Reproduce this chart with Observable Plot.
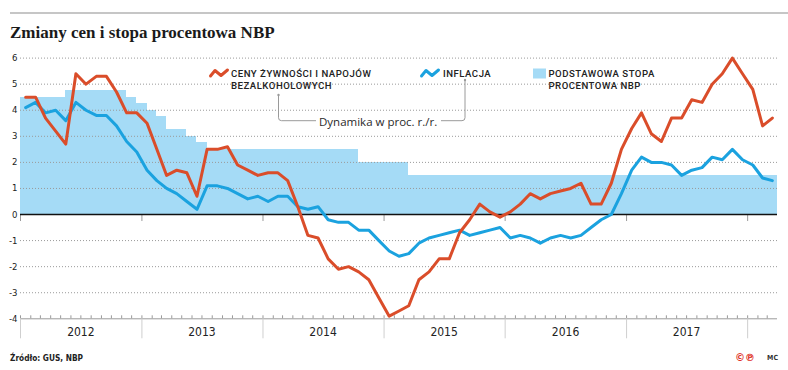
<!DOCTYPE html>
<html><head><meta charset="utf-8">
<script src="https://cdn.jsdelivr.net/npm/d3@7"></script>
<script src="https://cdn.jsdelivr.net/npm/@observablehq/plot@0.6"></script>
<style>
body{margin:0;background:#fff;}
#wrap{position:relative;width:788px;height:370px;overflow:hidden;background:#fff;}
#chart{position:absolute;left:0;top:45px;}
#overlay{position:absolute;left:0;top:0;pointer-events:none;}
</style>
</head><body>
<div id="wrap"><div id="chart"></div><svg id="overlay" width="788" height="370"></svg></div>
<script>
// ---- data (monthly, Jan 2012 – Mar 2018) ----
const inflation = [
  4.1, 4.3, 3.9, 4.0, 3.6, 4.3, 4.0, 3.8, 3.8, 3.4, 2.8, 2.4,
  1.7, 1.3, 1.0, 0.8, 0.5, 0.2, 1.1, 1.1, 1.0, 0.8, 0.6, 0.7,
  0.5, 0.7, 0.7, 0.3, 0.2, 0.3, -0.2, -0.3, -0.3, -0.6, -0.6, -1.0,
  -1.4, -1.6, -1.5, -1.1, -0.9, -0.8, -0.7, -0.6, -0.8, -0.7, -0.6, -0.5,
  -0.9, -0.8, -0.9, -1.1, -0.9, -0.8, -0.9, -0.8, -0.5, -0.2, 0.0, 0.8,
  1.7, 2.2, 2.0, 2.0, 1.9, 1.5, 1.7, 1.8, 2.2, 2.1, 2.5, 2.1,
  1.9, 1.4, 1.3
];
const food = [
  4.5, 4.5, 3.7, 3.2, 2.7, 5.4, 5.0, 5.3, 5.3, 4.7, 3.9, 3.9,
  3.5, 2.5, 1.5, 1.7, 1.6, 0.7, 2.5, 2.5, 2.6, 1.9, 1.7, 1.5,
  1.6, 1.6, 1.3, 0.3, -0.8, -0.9, -1.7, -2.1, -2.0, -2.2, -2.5, -3.2,
  -3.9, -3.7, -3.5, -2.5, -2.2, -1.7, -1.7, -0.7, -0.2, 0.4, 0.1, -0.1,
  0.1, 0.4, 0.8, 0.6, 0.8, 0.9, 1.0, 1.2, 0.4, 0.4, 1.2, 2.5,
  3.3, 3.9, 3.1, 2.8, 3.7, 3.7, 4.4, 4.3, 5.0, 5.4, 6.0, 5.4,
  4.8, 3.4, 3.7
];
const rate = [
  4.5, 4.5, 4.5, 4.5, 4.75, 4.75, 4.75, 4.75, 4.75, 4.75, 4.5, 4.25,
  4.0, 3.75, 3.25, 3.25, 3.0, 2.75, 2.5, 2.5, 2.5, 2.5, 2.5, 2.5,
  2.5, 2.5, 2.5, 2.5, 2.5, 2.5, 2.5, 2.5, 2.5, 2.0, 2.0, 2.0,
  2.0, 2.0, 1.5, 1.5, 1.5, 1.5, 1.5, 1.5, 1.5, 1.5, 1.5, 1.5,
  1.5, 1.5, 1.5, 1.5, 1.5, 1.5, 1.5, 1.5, 1.5, 1.5, 1.5, 1.5,
  1.5, 1.5, 1.5, 1.5, 1.5, 1.5, 1.5, 1.5, 1.5, 1.5, 1.5, 1.5,
  1.5, 1.5, 1.5
];
const yearLabels = ["2012", "2013", "2014", "2015", "2016", "2017"];
const yTicks = [-4, -3, -2, -1, 0, 1, 2, 3, 4, 5, 6];

const RED = "#da4d2a", BLUE = "#1ba2df", AREA = "#a5dbf6";
const tickFont = "'Liberation Sans Narrow','DejaVu Sans Condensed','Roboto',sans-serif";

const start = new Date(Date.UTC(2012, 0, 1));
const months = d3.utcMonth.range(start, d3.utcMonth.offset(start, inflation.length));
const end = d3.utcMonth.offset(months[months.length - 1], 1);
const mid = d => new Date((+d + +d3.utcMonth.offset(d, 1)) / 2);
const rows = months.map((m, i) => ({date: mid(m), inflation: inflation[i], food: food[i], rate: rate[i]}));
const steps = rows.map((r, i) => ({
  x1: i === 0 ? months[0] : r.date,
  x2: i === rows.length - 1 ? end : rows[i + 1].date,
  rate: r.rate
}));
const yearStarts = months.filter(d => d.getUTCMonth() === 0);
const yearMids = yearLabels.map(y => new Date(Date.UTC(+y, 6, 1)));

const chart = Plot.plot({
  width: 788, height: 300,
  marginLeft: 20, marginRight: 11, marginTop: 12.6, marginBottom: 26.7,
  x: {type: "utc", domain: [start, end]},
  y: {domain: [-4, 6]},
  style: {fontFamily: tickFont, background: "transparent"},
  marks: [
    Plot.rect(steps, {x1: "x1", x2: "x2", y1: 0, y2: "rate", fill: AREA, shapeRendering: "crispEdges"}),
    Plot.ruleY(yTicks.filter(d => d !== 0 && d !== -4), {stroke: "#9a9a9a", strokeDasharray: "1,2", strokeWidth: 1}),
    Plot.ruleY([-4], {stroke: "#9a9a9a", strokeWidth: 1}),
    Plot.ruleX(months, {x: d => d, y1: -4, y2: -4, insetTop: -3, stroke: "#9a9a9a"}),
    Plot.ruleX(yearStarts, {x: d => d, y1: -4, y2: -4, insetBottom: -20, stroke: "#cfcfcf"}),
    Plot.ruleX(yearStarts, {x: d => d, y1: 0, y2: 0, insetBottom: -7, stroke: "#9a9a9a"}),
    Plot.ruleY([0], {stroke: "#111", strokeWidth: 1.6}),
    Plot.axisY(yTicks, {tickSize: 0, tickPadding: 3, tickFormat: d => String(d), fontSize: 9.5, fill: "#222"}),
    Plot.axisX(yearMids, {tickSize: 0, tickPadding: 9, tickFormat: d3.utcFormat("%Y"), fontSize: 12, fill: "#222"}),
    Plot.lineY(rows, {x: "date", y: "inflation", stroke: BLUE, strokeWidth: 3}),
    Plot.lineY(rows, {x: "date", y: "food", stroke: RED, strokeWidth: 3})
  ]
});
document.getElementById("chart").append(chart);

// ---- title, legend, footer ----
const svg = d3.select("#overlay");
svg.append("line").attr("x1", 10).attr("x2", 788).attr("y1", 13).attr("y2", 13)
  .attr("stroke", "#b3b3b3").attr("stroke-width", 1.5);
svg.append("text").attr("x", 10).attr("y", 38).text("Zmiany cen i stopa procentowa NBP")
  .attr("font-family", "'Liberation Serif',serif").attr("font-weight", "bold")
  .attr("font-size", 17).attr("fill", "#1a1a1a");

const legFont = "Roboto,'Open Sans',sans-serif";
function legText(x, y, lines) {
  const t = svg.append("text").attr("x", x).attr("y", y)
    .attr("font-family", legFont).attr("font-weight", 500).attr("font-size", 9.6)
    .attr("letter-spacing", 0.5).attr("fill", "#222");
  lines.forEach((s, i) => t.append("tspan").attr("x", x).attr("dy", i === 0 ? 0 : 11.4).text(s));
}
const zig = (x0) => [[x0, 76], [x0 + 4.5, 70.5], [x0 + 10.5, 75.5], [x0 + 17, 70]];
svg.append("polyline").attr("points", zig(210.5).join(" ")).attr("fill", "none")
  .attr("stroke", RED).attr("stroke-width", 3).attr("stroke-linejoin", "round").attr("stroke-linecap", "round");
legText(231, 77.3, ["CENY ŻYWNOŚCI I NAPOJÓW", "BEZALKOHOLOWYCH"]);
svg.append("polyline").attr("points", zig(421.5).join(" ")).attr("fill", "none")
  .attr("stroke", BLUE).attr("stroke-width", 3).attr("stroke-linejoin", "round").attr("stroke-linecap", "round");
legText(443, 77.3, ["INFLACJA"]);
svg.append("rect").attr("x", 533).attr("y", 68.5).attr("width", 13).attr("height", 10).attr("fill", AREA);
legText(548.5, 77.3, ["PODSTAWOWA STOPA", "PROCENTOWA NBP"]);

svg.append("path").attr("d", "M278.5,95 V117.7 Q278.5,120.7 281.5,120.7 H316")
  .attr("fill", "none").attr("stroke", "#9a9a9a").attr("stroke-width", 1);
svg.append("path").attr("d", "M441,120.7 H462 Q465,120.7 465,117.7 V80")
  .attr("fill", "none").attr("stroke", "#9a9a9a").attr("stroke-width", 1);
svg.append("circle").attr("cx", 278.5).attr("cy", 95).attr("r", 1.2).attr("fill", "#9a9a9a");
svg.append("circle").attr("cx", 465).attr("cy", 80).attr("r", 1.2).attr("fill", "#9a9a9a");
svg.append("text").attr("x", 319).attr("y", 125.5).text("Dynamika w proc. r./r.")
  .attr("font-family", "'Open Sans',sans-serif").attr("font-size", 11.5).attr("fill", "#2a2a2a");

svg.append("text").attr("x", 10).attr("y", 360.5).text("Źródło: GUS, NBP")
  .attr("font-family", tickFont).attr("font-weight", "bold").attr("font-size", 9.5)
  .attr("textLength", 73).attr("lengthAdjust", "spacingAndGlyphs").attr("fill", "#222");
svg.append("text").attr("x", 735).attr("y", 360.5).text("©℗")
  .attr("font-family", "'DejaVu Sans',sans-serif").attr("font-weight", "bold").attr("font-size", 10).attr("fill", "#e0352b");
svg.append("text").attr("x", 778).attr("y", 360).attr("text-anchor", "end").text("MC")
  .attr("font-family", tickFont).attr("font-weight", "bold").attr("font-size", 7).attr("fill", "#333");
</script>
</body></html>
